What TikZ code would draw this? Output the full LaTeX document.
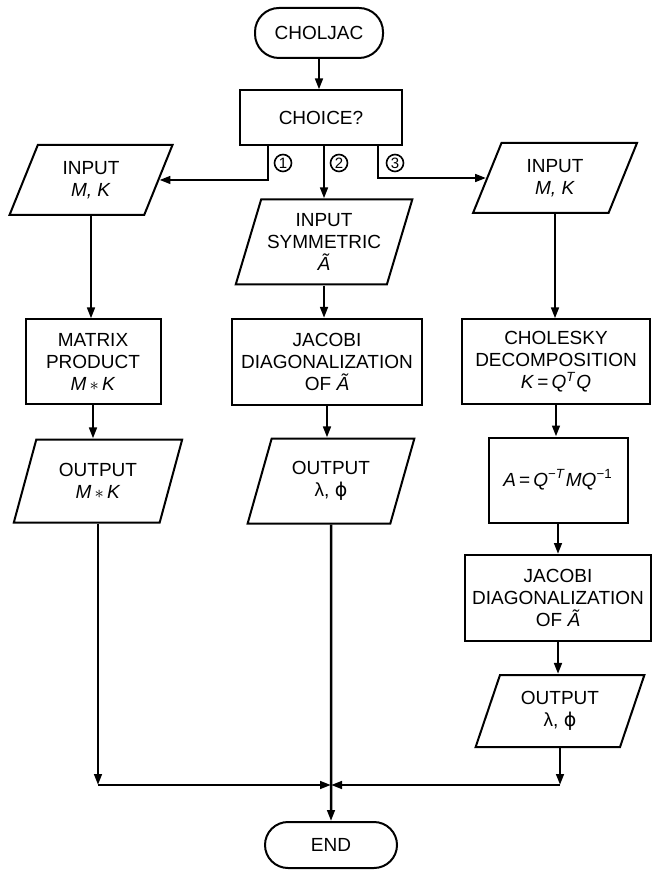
\documentclass[tikz,border=0pt]{standalone}
\usepackage{fontspec}
\setmainfont{Liberation Sans}
\newfontfamily\phifont{DejaVu Sans}
\usetikzlibrary{shapes.geometric,arrows.meta}

\tikzset{
    box/.style={draw, line width=1pt, inner sep=0pt, align=center, font=\fontsize{9.5}{11}\selectfont},
    term/.style={box, rounded corners=12pt},
    io/.style={box, trapezium, trapezium left angle=68, trapezium right angle=112, trapezium stretches=true},
    flow/.style={line width=1.25pt, -{Triangle[length=5.5pt,width=3.8pt]}},
    num/.style={circle, draw, line width=0.8pt, inner sep=0pt, minimum size=8.5pt, font=\fontsize{7.5}{7.5}\selectfont}
}

\newcommand{\lamphi}{λ, {\phifont ϕ}}

\begin{document}
\begin{tikzpicture}[x=0.5pt,y=-0.5pt]
    \useasboundingbox (0,0) rectangle (652,870);

    % top
    \node [term, minimum width=64pt, minimum height=25pt] (start) at (319,33) {CHOLJAC};
    \node [box, minimum width=81pt, minimum height=27.5pt] (choice) at (321,118) {CHOICE?};

    % branch 1
    \node [io, minimum width=81.5pt, minimum height=35pt] (inL) at (91,180) {INPUT\\\textit{M, K}};
    \node [box, minimum width=67.5pt, minimum height=42.5pt] (prodL) at (93,362) {MATRIX\\PRODUCT\\\textit{M}\,$\ast$\,\textit{K}};
    \node [io, minimum width=84.5pt, minimum height=41.5pt] (outL) at (98,481) {OUTPUT\\\textit{M}\,$\ast$\,\textit{K}};

    % branch 2
    \node [io, minimum width=89pt, minimum height=42.5pt] (inM) at (324,242) {INPUT\\SYMMETRIC\\\textit{\~A}};
    \node [box, minimum width=95pt, minimum height=43pt] (jacM) at (327,362) {JACOBI\\DIAGONALIZATION\\OF \textit{\~A}};
    \node [io, minimum width=83.5pt, minimum height=42.5pt] (outM) at (331,481) {OUTPUT\\\lamphi};

    % branch 3
    \node [io, minimum width=82pt, minimum height=35pt] (inR) at (555,178) {INPUT\\\textit{M, K}};
    \node [box, minimum width=94pt, minimum height=42.5pt] (cholR) at (556,362) {CHOLESKY\\DECOMPOSITION\\\textit{K}\,=\,\textit{Q}\textsuperscript{\textit{T}}\textit{Q}};
    \node [box, minimum width=69.5pt, minimum height=42.5pt] (quotR) at (558,480) {\textit{A}\,=\,\textit{Q}\textsuperscript{−\textit{T}}\textit{MQ}\textsuperscript{−1}};
    \node [box, minimum width=93pt, minimum height=43pt] (jacR) at (558,598) {JACOBI\\DIAGONALIZATION\\OF \textit{\~A}};
    \node [io, minimum width=84.5pt, minimum height=36pt] (outR) at (560,711) {OUTPUT\\\lamphi};

    \node [term, minimum width=66pt, minimum height=23pt, rounded corners=11.5pt] (endN) at (331,845) {END};

    % choice exits
    \coordinate (c1) at (268,0);
    \coordinate (c3) at (378,0);
    \coordinate (join) at (331,785);

    \draw [flow] (start.south) -- (start.south |- choice.north);
    \draw [flow] (choice.south -| c1) |- (inL.east);
    \draw [flow] (inM.north |- choice.south) -- (inM.north);
    \draw [flow] (choice.south -| c3) |- (inR.west);

    \node [num] (n1) at (283,163) {1};
    \node [num] (n2) at (339,163) {2};
    \node [num] (n3) at (395,163) {3};

    % columns
    \draw [flow] (inL.south) -- (inL.south |- prodL.north);
    \draw [flow] (prodL.south) -- (prodL.south |- outL.north);
    \draw [flow] (inM.south) -- (inM.south |- jacM.north);
    \draw [flow] (jacM.south) -- (jacM.south |- outM.north);
    \draw [flow] (inR.south) -- (inR.south |- cholR.north);
    \draw [flow] (cholR.south) -- (cholR.south |- quotR.north);
    \draw [flow] (quotR.south) -- (quotR.south |- jacR.north);
    \draw [flow] (jacR.south) -- (jacR.south |- outR.north);

    % to end
    \draw [flow] (outL.south) -- (outL.south |- join);
    \draw [flow] (outL.south |- join) -- (join);
    \draw [flow] (outR.south) -- (outR.south |- join);
    \draw [flow] (outR.south |- join) -- (join);
    \draw [flow] (outM.south) -- (endN.north);

\end{tikzpicture}
\end{document}
